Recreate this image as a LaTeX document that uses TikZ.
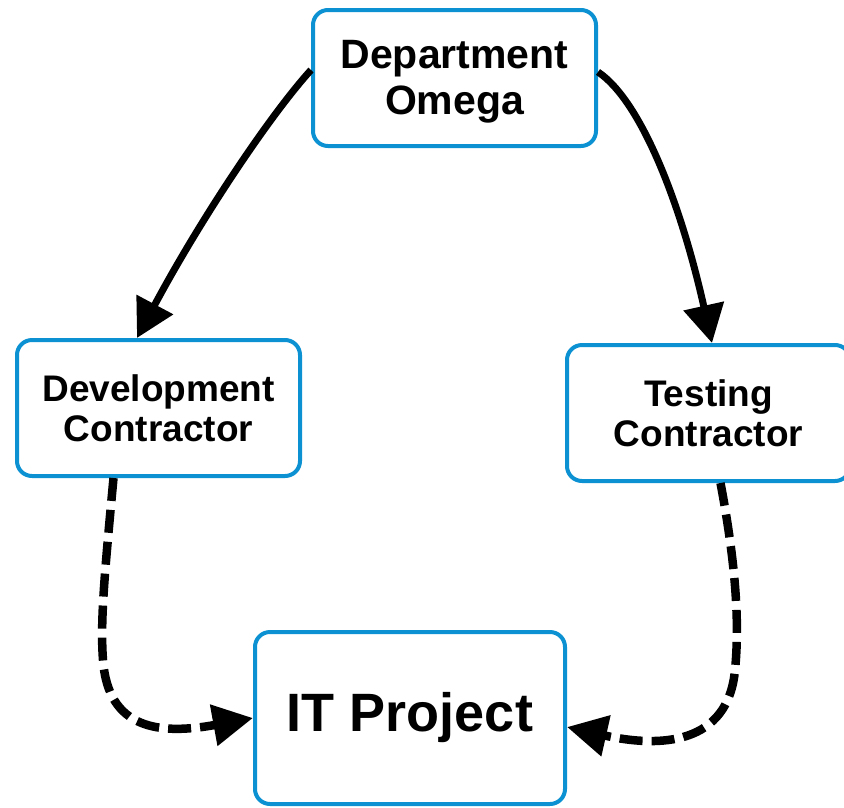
\documentclass[tikz,border=0pt]{standalone}
\usepackage{fontspec}
\setmainfont{Liberation Sans}
\usetikzlibrary{arrows.meta}
\definecolor{boxblue}{RGB}{12,146,210}
\begin{document}
\begin{tikzpicture}[x=1pt,y=-1pt,
  box/.style={draw=boxblue, line width=4pt, rounded corners=15pt, fill=white,
    align=center, inner sep=0pt, font=\bfseries},
  solidarrow/.style={line width=7pt, -{Triangle[length=38pt,width=40pt]}},
  dasharrow/.style={line width=8.5pt, dash pattern=on 23pt off 9pt,
    -{Triangle[length=40pt,width=40pt]}}]
\useasboundingbox (0,0) rectangle (844,807);
\clip (0,0) rectangle (844,807);
\node[box, minimum width=283pt, minimum height=136pt,
  font=\bfseries\fontsize{41pt}{46pt}\selectfont] (dept) at (454.5,78)
  {\raisebox{0pt}[\dimexpr\height+9pt\relax]{\begin{tabular}{@{}c@{}}Department\\Omega\end{tabular}}};
\node[box, minimum width=283pt, minimum height=136pt,
  font=\bfseries\fontsize{37pt}{40pt}\selectfont] (dev) at (158.5,408) {Development\\Contractor};
\node[box, minimum width=283pt, minimum height=136pt,
  font=\bfseries\fontsize{37pt}{40pt}\selectfont] (test) at (708.5,413) {Testing\\Contractor};
\node[box, minimum width=310pt, minimum height=172pt,
  font=\bfseries\fontsize{54pt}{60pt}\selectfont] (it) at (410,718) {IT Project};
\draw[solidarrow] ([yshift=8pt]dept.west) .. controls (270,115) and (200,220) .. ([xshift=-21.5pt]dev.north);
\draw[solidarrow] ([yshift=6pt]dept.east) .. controls (640,100) and (680,200) .. ([xshift=3.5pt]test.north);
\draw[dasharrow] ([xshift=-45pt]dev.south) .. controls (105,570) and (100,620) .. (103,660)
  .. controls (108,730) and (160,735) .. (it.west);
\draw[dasharrow] ([xshift=12pt]test.south) .. controls (735,560) and (740,620) .. (735,670)
  .. controls (728,745) and (660,748) .. ([yshift=-9pt]it.east);
\end{tikzpicture}
\end{document}
